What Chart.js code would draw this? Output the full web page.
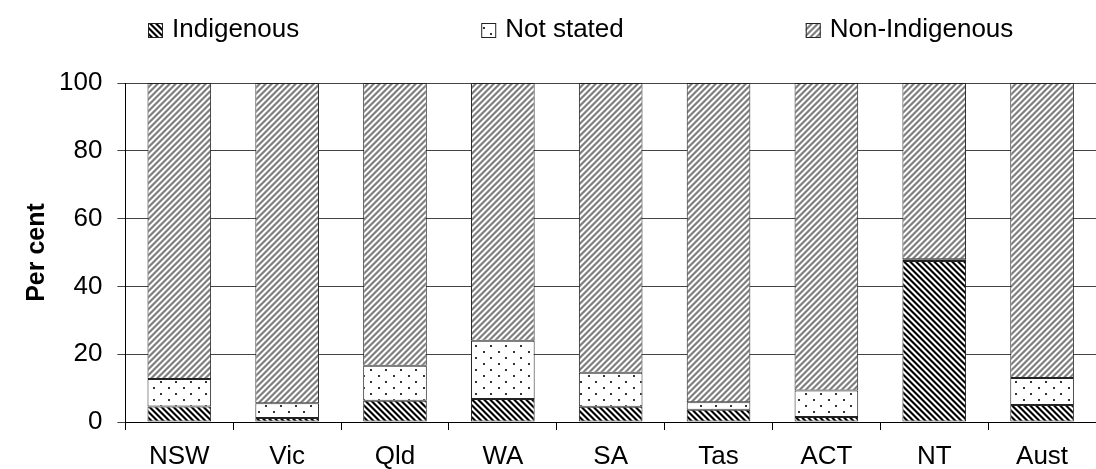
<!DOCTYPE html>
<html>
<head>
<meta charset="utf-8">
<script src="https://cdn.jsdelivr.net/npm/chart.js@4"></script>
<style>
  body { margin: 0; background: #fff; }
  #wrap { width: 1096px; height: 469px; }
</style>
</head>
<body>
<div id="wrap"><canvas id="share_chart" width="1096" height="469"></canvas></div>
<script>
var states = ['NSW', 'Vic', 'Qld', 'WA', 'SA', 'Tas', 'ACT', 'NT', 'Aust'];
var indigenous = [4.6, 1.2, 6.3, 6.8, 4.5, 3.6, 1.5, 47.5, 5.0];
var notStated = [8.1, 4.3, 10.3, 17.2, 10.0, 2.2, 7.8, 0.5, 8.0];
var nonIndigenous = [87.3, 94.5, 83.4, 76.0, 85.5, 94.2, 90.7, 52.0, 87.0];
var yTicks = [0, 20, 40, 60, 80, 100];

var FONT = "'Liberation Sans', Arial, sans-serif";

function makeTile(w, h, paint) {
  var c = document.createElement('canvas');
  c.width = w; c.height = h;
  var t = c.getContext('2d');
  t.fillStyle = '#fff';
  t.fillRect(0, 0, w, h);
  paint(t);
  return document.createElement('canvas').getContext('2d').createPattern(c, 'repeat');
}

// black / white stripes running "\"
var stripeDark = makeTile(6, 6, function (t) {
  var shades = ['#000', '#000', '#777', '#fff', '#fff', '#888'];
  for (var x = 0; x < 6; x++) {
    for (var y = 0; y < 6; y++) {
      t.fillStyle = shades[((x - y) % 6 + 6) % 6];
      t.fillRect(x, y, 1, 1);
    }
  }
});

// sparse dots
var dots = makeTile(15, 12, function (t) {
  t.fillStyle = '#333';
  t.fillRect(3, 3, 2, 2);
  t.fillRect(10, 9, 2, 2);
});

// grey / white stripes running "/"
var stripeGrey = makeTile(6, 6, function (t) {
  var shades = ['#808080', '#808080', '#b0b0b0', '#fff', '#fff', '#c0c0c0'];
  for (var x = 0; x < 6; x++) {
    for (var y = 0; y < 6; y++) {
      t.fillStyle = shades[(x + y) % 6];
      t.fillRect(x, y, 1, 1);
    }
  }
});

// legend drawn by hand so the items can sit far apart like the original
var spreadLegend = {
  id: 'spreadLegend',
  afterDraw: function (chart) {
    var ctx = chart.ctx;
    var x = 148;
    ctx.save();
    ctx.font = '26px ' + FONT;
    ctx.textBaseline = 'middle';
    ctx.textAlign = 'left';
    chart.data.datasets.forEach(function (ds) {
      ctx.fillStyle = ds.backgroundColor;
      ctx.fillRect(x, 23, 15, 15);
      ctx.strokeStyle = '#222';
      ctx.lineWidth = 1;
      ctx.strokeRect(x + 0.5, 23.5, 14, 14);
      ctx.fillStyle = '#000';
      ctx.fillText(ds.label, x + 24, 30);
      x += 24 + ctx.measureText(ds.label).width + 182;
    });
    ctx.restore();
  }
};

var ctx = document.getElementById('share_chart').getContext('2d');
var myChart = new Chart(ctx, {
  type: 'bar',
  data: {
    labels: states,
    datasets: [{
      label: 'Indigenous',
      data: indigenous,
      backgroundColor: stripeDark
    }, {
      label: 'Not stated',
      data: notStated,
      backgroundColor: dots
    }, {
      label: 'Non-Indigenous',
      data: nonIndigenous,
      backgroundColor: stripeGrey
    }]
  },
  options: {
    responsive: false,
    animation: false,
    layout: {
      padding: { top: 83, left: 5, right: -10, bottom: -15 }
    },
    datasets: {
      bar: {
        borderColor: '#222',
        borderWidth: 1,
        borderSkipped: false,
        barPercentage: 0.59,
        categoryPercentage: 1
      }
    },
    scales: {
      x: {
        stacked: true,
        grid: {
          display: true,
          drawOnChartArea: false,
          offset: true,
          color: '#000',
          tickLength: 8
        },
        border: { display: true, color: '#000', width: 1 },
        ticks: {
          color: '#000',
          padding: 14,
          font: { family: FONT, size: 26, lineHeight: 1 }
        }
      },
      y: {
        stacked: true,
        min: 0,
        max: 100,
        afterBuildTicks: function (axis) {
          axis.ticks = yTicks.map(function (v) { return { value: v }; });
        },
        grid: {
          color: '#444',
          tickLength: 8
        },
        border: { display: true, color: '#000', width: 1 },
        ticks: {
          color: '#000',
          padding: 15,
          font: { family: FONT, size: 26 }
        },
        title: {
          display: true,
          text: 'Per cent',
          color: '#000',
          padding: { top: 17, bottom: -8 },
          font: { family: FONT, size: 25, weight: 'bold' }
        }
      }
    },
    plugins: {
      legend: { display: false },
      tooltip: { enabled: false }
    }
  },
  plugins: [spreadLegend]
});
</script>
</body>
</html>
